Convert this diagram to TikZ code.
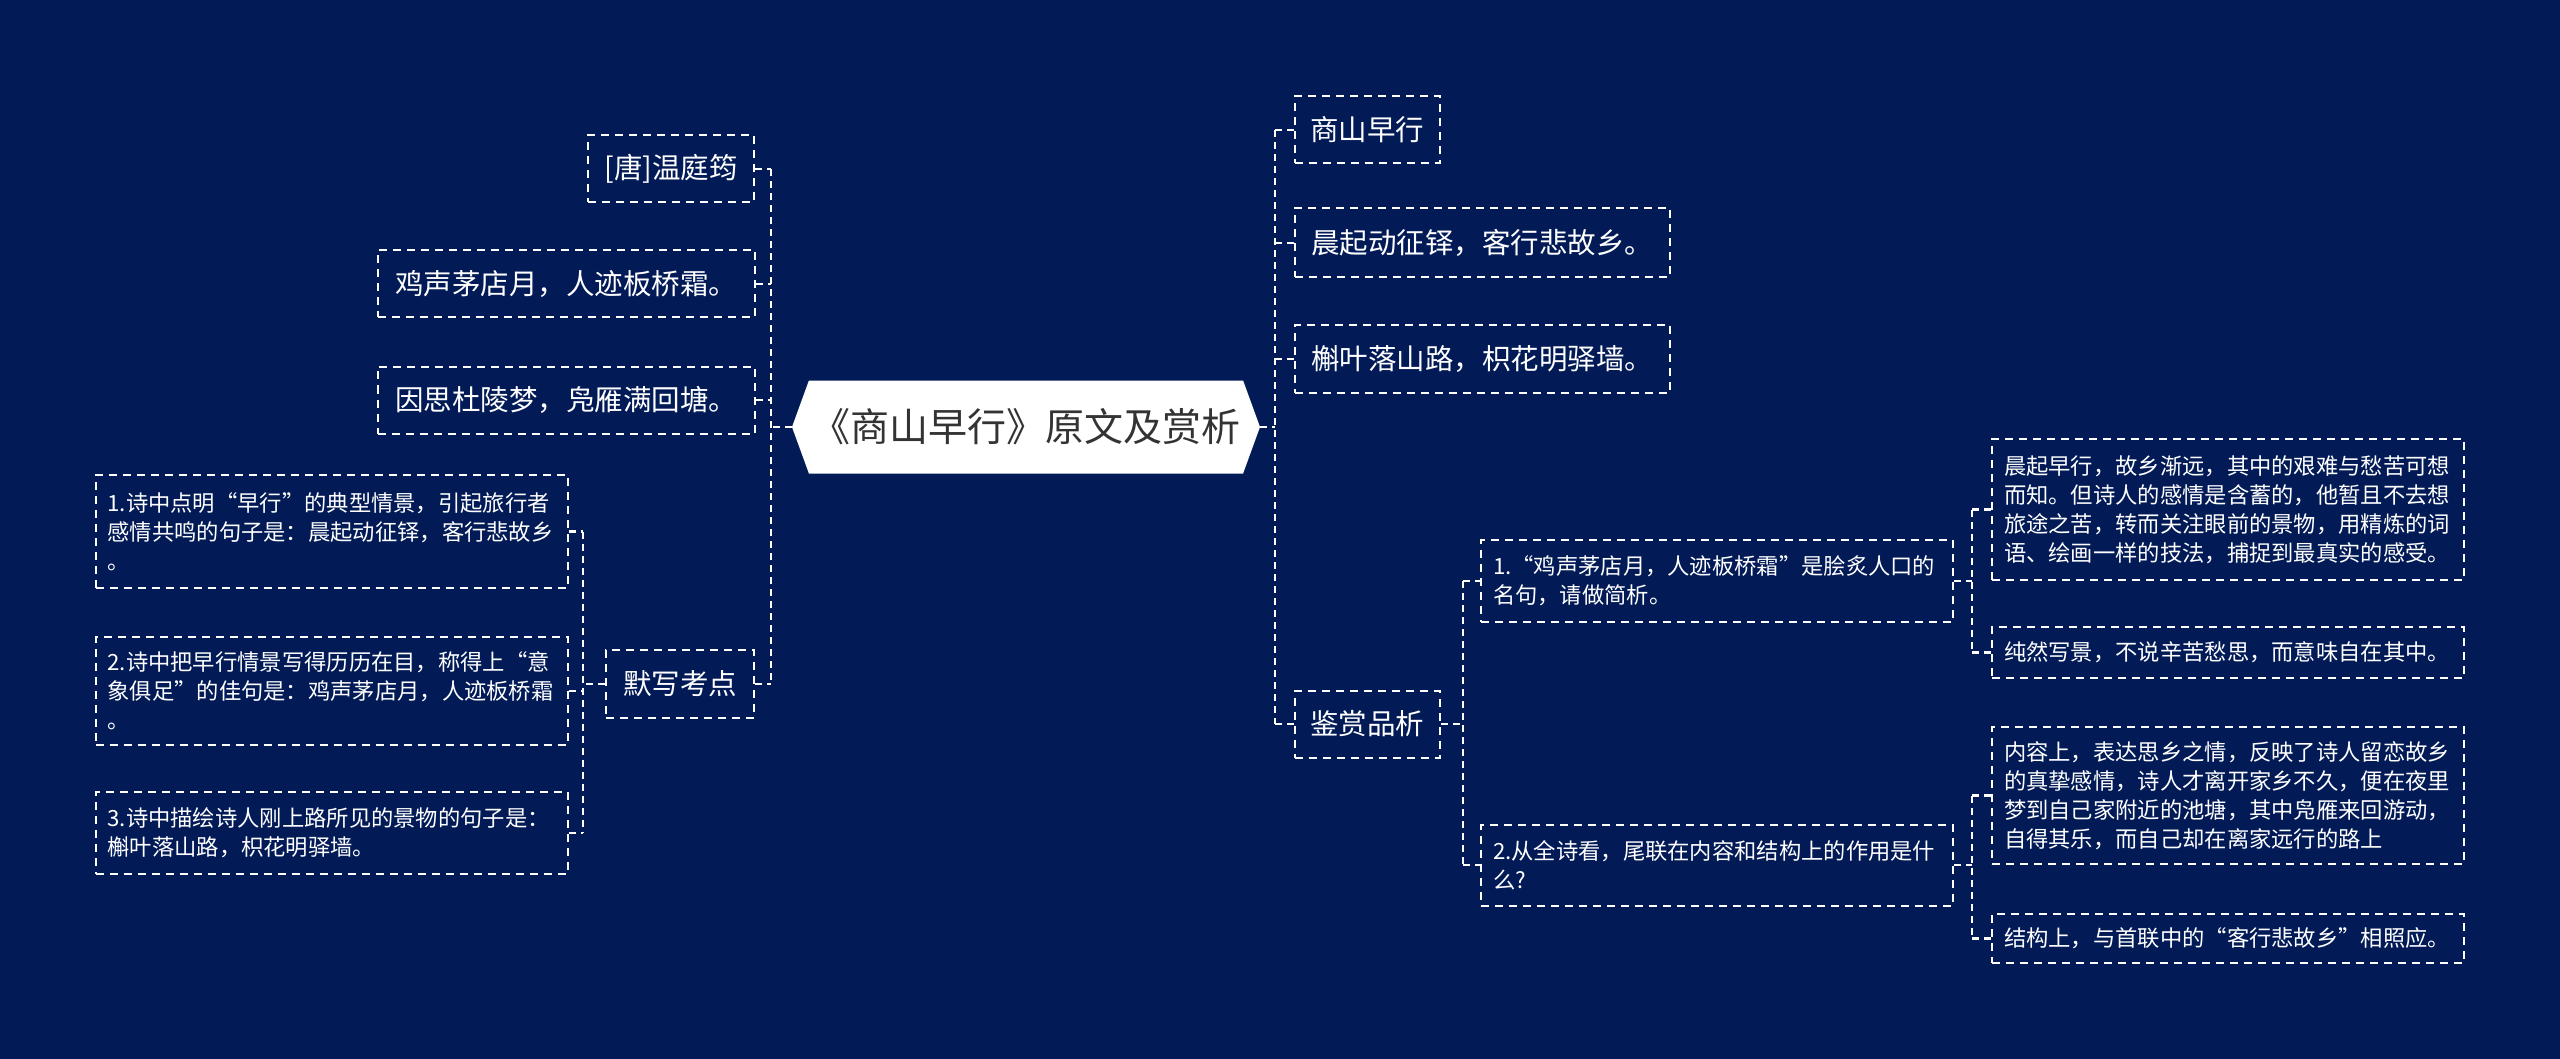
\documentclass[tikz,border=0pt]{standalone}
\usepackage{fontspec}
\newfontfamily\cjk{Noto Sans CJK SC}
\usetikzlibrary{shapes.symbols}
\definecolor{bgnavy}{RGB}{2,27,87}
\definecolor{rootink}{RGB}{51,51,51}
\tikzset{
  link/.style={white, line width=2.4pt, dash pattern=on 7pt off 5pt},
  topic/.style={draw=white, line width=2pt, dash pattern=on 8pt off 6pt,
    text=white, font=\cjk\fontsize{28.5}{34}\selectfont, inner sep=0pt},
  leaf/.style={draw=white, line width=2pt, dash pattern=on 8pt off 6pt,
    text=white, font=\cjk\fontsize{22.3}{29}\selectfont, text width=448pt,
    align=left, inner xsep=12pt, inner ysep=0pt},
  rootnode/.style={shape=signal, signal to=west and east, signal pointer angle=140,
    fill=white, text=rootink, font=\cjk\fontsize{39}{44}\selectfont,
    minimum width=468pt, minimum height=93pt, inner sep=0pt}
}
\begin{document}
\begin{tikzpicture}[x=1pt,y=-1pt]
  % Background
  \fill[bgnavy] (0,0) rectangle (2560,1059);
  \useasboundingbox (0,0) rectangle (2560,1059);

  % Root
  \node[rootnode] (root) at (1026,427) {《商山早行》原文及赏析};

  % Left branch
  \node[topic, minimum width=166pt, minimum height=67pt] (tang) at (671,169) {[唐]温庭筠};
  \node[topic, minimum width=377pt, minimum height=67pt] (jisheng) at (566,284) {鸡声茅店月，人迹板桥霜。};
  \node[topic, minimum width=377pt, minimum height=67pt] (yinsi) at (566,400) {因思杜陵梦，凫雁满回塘。};
  \node[topic, minimum width=148pt, minimum height=68pt] (moxie) at (680,684) {默写考点};

  \node[leaf, minimum height=113pt] (mxa) at (331.5,531.5)
    {1.诗中点明“早行”的典型情景，引起旅行者\\感情共鸣的句子是：晨起动征铎，客行悲故乡\\。};
  \node[leaf, minimum height=108pt] (mxb) at (331.5,691)
    {2.诗中把早行情景写得历历在目，称得上“意\\象俱足”的佳句是：鸡声茅店月，人迹板桥霜\\。};
  \node[leaf, minimum height=82pt] (mxc) at (331.5,833)
    {3.诗中描绘诗人刚上路所见的景物的句子是：\\槲叶落山路，枳花明驿墙。};

  % Right branch
  \node[topic, minimum width=145pt, minimum height=67pt] (title) at (1367,130) {商山早行};
  \node[topic, minimum width=375pt, minimum height=69pt] (chenqi) at (1482,243) {晨起动征铎，客行悲故乡。};
  \node[topic, minimum width=375pt, minimum height=68pt] (huye) at (1482,359) {槲叶落山路，枳花明驿墙。};
  \node[topic, minimum width=145pt, minimum height=67pt] (jianshang) at (1367,724) {鉴赏品析};

  \node[leaf, minimum height=82pt] (qa) at (1717,581)
    {1.“鸡声茅店月，人迹板桥霜”是脍炙人口的\\名句，请做简析。};
  \node[leaf, minimum height=81pt] (qb) at (1717,865)
    {2.从全诗看，尾联在内容和结构上的作用是什\\么?};

  \node[leaf, minimum height=141pt] (ansa) at (2228,509.5)
    {晨起早行，故乡渐远，其中的艰难与愁苦可想\\而知。但诗人的感情是含蓄的，他暂且不去想\\旅途之苦，转而关注眼前的景物，用精炼的词\\语、绘画一样的技法，捕捉到最真实的感受。};
  \node[leaf, minimum height=51pt] (ansb) at (2228,652.5)
    {纯然写景，不说辛苦愁思，而意味自在其中。};
  \node[leaf, minimum height=137pt] (ansc) at (2228,795.5)
    {内容上，表达思乡之情，反映了诗人留恋故乡\\的真挚感情，诗人才离开家乡不久，便在夜里\\梦到自己家附近的池塘，其中凫雁来回游动，\\自得其乐，而自己却在离家远行的路上};
  \node[leaf, minimum height=49pt] (ansd) at (2228,938.5)
    {结构上，与首联中的“客行悲故乡”相照应。};

  % Buses
  \coordinate (lbus) at (771,427);
  \coordinate (mbus) at (583,684);
  \coordinate (rbus) at (1275,427);
  \coordinate (jbus) at (1463,724);
  \coordinate (qabus) at (1972,581);
  \coordinate (qbbus) at (1972,865);

  % Connectors, left
  \draw[link] (root.west) -- (lbus);
  \draw[link] (tang.east -| lbus) -- (moxie.east -| lbus);
  \foreach \n in {tang,jisheng,yinsi,moxie}
    \draw[link] (\n.east) -- (\n.east -| lbus);
  \draw[link] (moxie.west) -- (mbus);
  \draw[link] (mxa.east -| mbus) -- (mxc.east -| mbus);
  \foreach \n in {mxa,mxb,mxc}
    \draw[link] (\n.east) -- (\n.east -| mbus);

  % Connectors, right
  \draw[link] (root.east) -- (rbus);
  \draw[link] (title.west -| rbus) -- (jianshang.west -| rbus);
  \foreach \n in {title,chenqi,huye,jianshang}
    \draw[link] (\n.west -| rbus) -- (\n.west);
  \draw[link] (jianshang.east) -- (jbus);
  \draw[link] (qa.west -| jbus) -- (qb.west -| jbus);
  \foreach \n in {qa,qb}
    \draw[link] (\n.west -| jbus) -- (\n.west);
  \draw[link] (qa.east) -- (qabus);
  \draw[link] (ansa.west -| qabus) -- (ansb.west -| qabus);
  \foreach \n in {ansa,ansb}
    \draw[link] (\n.west -| qabus) -- (\n.west);
  \draw[link] (qb.east) -- (qbbus);
  \draw[link] (ansc.west -| qbbus) -- (ansd.west -| qbbus);
  \foreach \n in {ansc,ansd}
    \draw[link] (\n.west -| qbbus) -- (\n.west);
\end{tikzpicture}
\end{document}
